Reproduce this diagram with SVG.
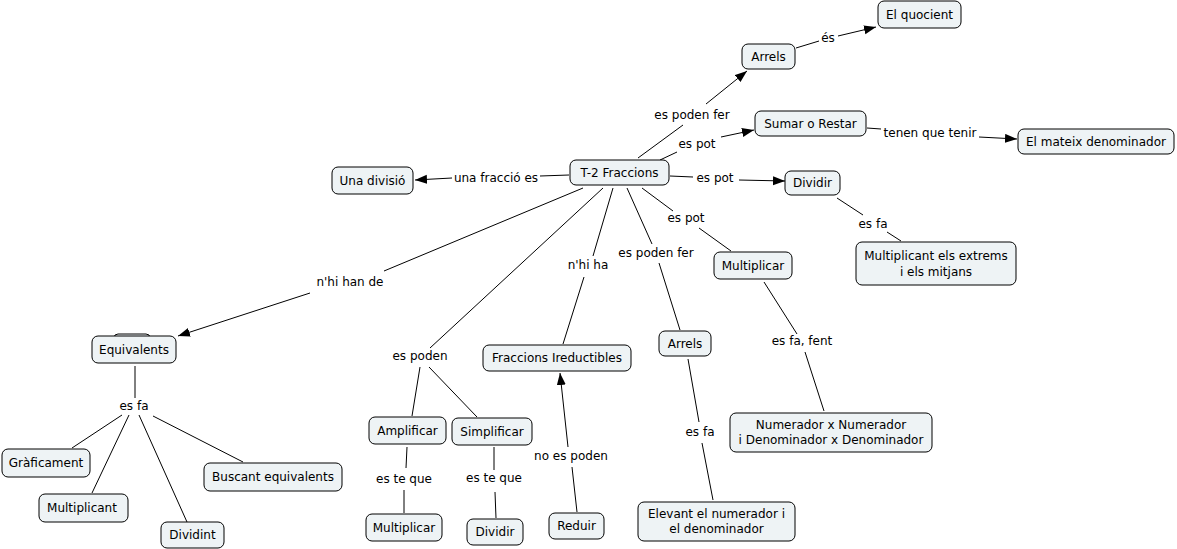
<svg xmlns="http://www.w3.org/2000/svg" width="1177" height="549" viewBox="0 0 1177 549">
<style>
.n rect{fill:#eef3f5;stroke:#000;stroke-width:1}
text{font-family:"DejaVu Sans",Verdana,sans-serif;font-size:12px;fill:#000;text-anchor:middle}
.c line{stroke:#000;stroke-width:1}
.a{marker-end:url(#ah)}
</style>
<defs>
<marker id="ah" markerUnits="userSpaceOnUse" markerWidth="13" markerHeight="10" refX="12" refY="4.5" orient="auto" viewBox="0 0 13 10">
<path d="M0,0 L12,4.5 L0,9 z" fill="#000"/>
</marker>
</defs>
<rect width="1177" height="549" fill="#fff"/>
<g id="connectors" class="c">
<line x1="569" y1="175" x2="540" y2="176"/>
<line class="a" x1="452" y1="178" x2="415" y2="180"/>
<line x1="638" y1="158" x2="683" y2="125"/>
<line class="a" x1="706" y1="104" x2="747" y2="71"/>
<line x1="796" y1="48" x2="819" y2="41"/>
<line class="a" x1="838" y1="36" x2="876" y2="27"/>
<line x1="660" y1="160" x2="677" y2="152"/>
<line class="a" x1="721" y1="137" x2="754" y2="130"/>
<line x1="867" y1="128" x2="881" y2="129"/>
<line class="a" x1="979" y1="137" x2="1017" y2="139"/>
<line x1="670" y1="176" x2="693" y2="177"/>
<line class="a" x1="739" y1="180" x2="785" y2="181"/>
<line x1="837" y1="198" x2="863" y2="215"/>
<line x1="887" y1="232" x2="901" y2="241"/>
<line x1="642" y1="188" x2="673" y2="211"/>
<line x1="699" y1="228" x2="731" y2="251"/>
<line x1="627" y1="188" x2="652" y2="244"/>
<line x1="659" y1="263" x2="680" y2="330"/>
<line x1="613" y1="188" x2="593" y2="256"/>
<line x1="584" y1="277" x2="563" y2="344"/>
<line x1="583" y1="188" x2="384" y2="271"/>
<line class="a" x1="310" y1="293" x2="178" y2="336"/>
<line x1="603" y1="188" x2="430" y2="348"/>
<line x1="420" y1="367" x2="412" y2="416"/>
<line x1="429" y1="367" x2="477" y2="417"/>
<line x1="407" y1="447" x2="406" y2="468"/>
<line x1="404" y1="490" x2="404" y2="513"/>
<line x1="494" y1="447" x2="494" y2="470"/>
<line x1="495" y1="492" x2="496" y2="518"/>
<line x1="577" y1="512" x2="572" y2="467"/>
<line class="a" x1="568" y1="447" x2="560" y2="373"/>
<line x1="688" y1="359" x2="699" y2="422"/>
<line x1="702" y1="443" x2="713" y2="500"/>
<line x1="764" y1="282" x2="797" y2="334"/>
<line x1="805" y1="352" x2="824" y2="411"/>
<line x1="135" y1="366" x2="135" y2="398"/>
<line x1="122" y1="415" x2="72" y2="448"/>
<line x1="129" y1="415" x2="92" y2="493"/>
<line x1="139" y1="415" x2="187" y2="522"/>
<line x1="153" y1="416" x2="243" y2="462"/>
</g>
<g id="labels">
<text x="496" y="182">una fracció es</text>
<text x="692" y="119">es poden fer</text>
<text x="828" y="42">és</text>
<text x="697" y="148">es pot</text>
<text x="930" y="137">tenen que tenir</text>
<text x="715" y="182">es pot</text>
<text x="873" y="228">es fa</text>
<text x="686" y="222">es pot</text>
<text x="350" y="286">n'hi han de</text>
<text x="588" y="269">n'hi ha</text>
<text x="656" y="257">es poden fer</text>
<text x="420" y="360">es poden</text>
<text x="802" y="345">es fa, fent</text>
<text x="134" y="410">es fa</text>
<text x="404" y="483">es te que</text>
<text x="494" y="482">es te que</text>
<text x="571" y="460">no es poden</text>
<text x="700" y="436">es fa</text>
</g>
<g id="n-t2" class="n"><rect x="570" y="160" width="99" height="25" rx="6"/><text x="619.5" y="177">T-2 Fraccions</text></g>
<g id="n-arrels1" class="n"><rect x="742" y="44" width="53" height="25" rx="6"/><text x="768.5" y="61">Arrels</text></g>
<g id="n-quocient" class="n"><rect x="878" y="1" width="83" height="27" rx="6"/><text x="919.5" y="19">El quocient</text></g>
<g id="n-sumar" class="n"><rect x="755" y="111" width="111" height="25" rx="6"/><text x="810.5" y="128">Sumar o Restar</text></g>
<g id="n-mateix" class="n"><rect x="1018" y="129" width="156" height="25" rx="6"/><text x="1096" y="146">El mateix denominador</text></g>
<g id="n-dividir1" class="n"><rect x="785" y="171" width="55" height="24" rx="6"/><text x="812.5" y="187">Dividir</text></g>
<g id="n-extrems" class="n"><rect x="856" y="242" width="160" height="43" rx="6"/><text x="936" y="260">Multiplicant els extrems</text><text x="936" y="276">i els mitjans</text></g>
<g id="n-multiplicar1" class="n"><rect x="714" y="252" width="78" height="27" rx="6"/><text x="753" y="270">Multiplicar</text></g>
<g id="n-divisio" class="n"><rect x="332" y="167" width="81" height="27" rx="6"/><text x="372.5" y="185">Una divisió</text></g>
<g id="n-hidden" class="n"><rect x="114" y="334" width="36" height="10" rx="4"/></g>
<g id="n-equivalents" class="n"><rect x="92" y="336" width="84" height="27" rx="6"/><text x="134" y="354">Equivalents</text></g>
<g id="n-grafic" class="n"><rect x="2" y="449" width="88" height="28" rx="6"/><text x="46" y="467">Gràficament</text></g>
<g id="n-multiplicant" class="n"><rect x="39" y="494" width="89" height="28" rx="6"/><text x="82" y="512">Multiplicant</text></g>
<g id="n-dividint" class="n"><rect x="161" y="522" width="63" height="26" rx="6"/><text x="192.5" y="539">Dividint</text></g>
<g id="n-buscant" class="n"><rect x="204" y="463" width="138" height="28" rx="6"/><text x="273" y="481">Buscant equivalents</text></g>
<g id="n-ireductibles" class="n"><rect x="483" y="345" width="148" height="26" rx="6"/><text x="557" y="362">Fraccions Ireductibles</text></g>
<g id="n-amplificar" class="n"><rect x="369" y="417" width="77" height="27" rx="6"/><text x="407.5" y="435">Amplificar</text></g>
<g id="n-simplificar" class="n"><rect x="452" y="418" width="80" height="27" rx="6"/><text x="492" y="436">Simplificar</text></g>
<g id="n-multiplicar2" class="n"><rect x="366" y="514" width="76" height="27" rx="6"/><text x="404" y="532">Multiplicar</text></g>
<g id="n-dividir2" class="n"><rect x="467" y="519" width="56" height="26" rx="6"/><text x="495" y="536">Dividir</text></g>
<g id="n-reduir" class="n"><rect x="549" y="513" width="55" height="26" rx="6"/><text x="576.5" y="530">Reduir</text></g>
<g id="n-arrels2" class="n"><rect x="659" y="331" width="52" height="25" rx="6"/><text x="685" y="348">Arrels</text></g>
<g id="n-numerador" class="n"><rect x="730" y="413" width="202" height="39" rx="6"/><text x="831" y="429">Numerador x Numerador</text><text x="831" y="444">i Denominador x Denominador</text></g>
<g id="n-elevant" class="n"><rect x="638" y="502" width="157" height="39" rx="6"/><text x="716.5" y="518">Elevant el numerador i</text><text x="716.5" y="533">el denominador</text></g>
</svg>
